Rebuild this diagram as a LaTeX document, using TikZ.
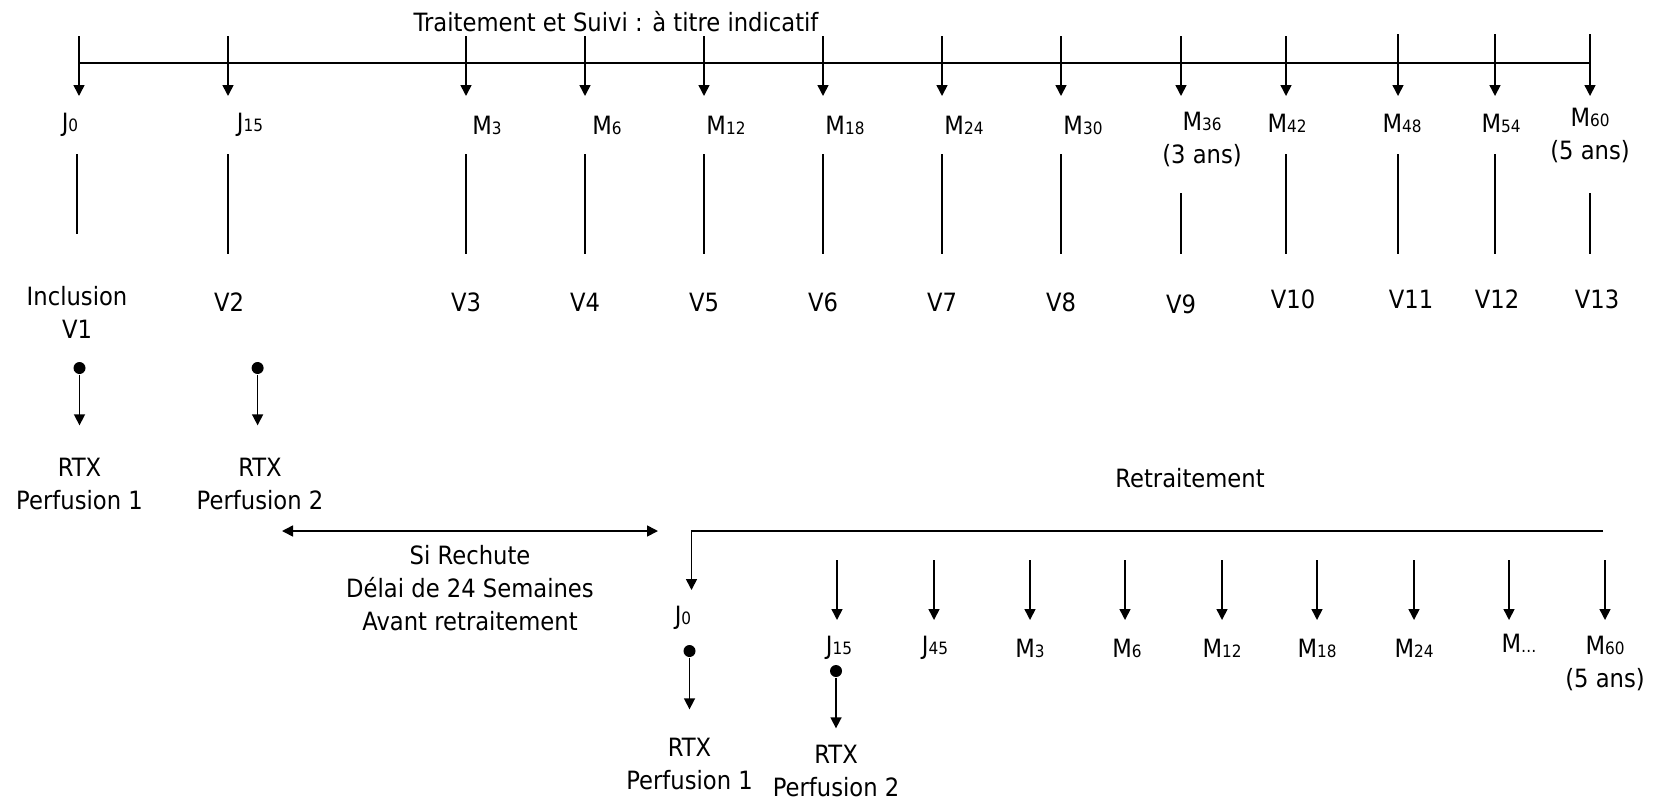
\documentclass[tikz,border=0pt]{standalone}
\usepackage{fontspec}
\setmainfont{DejaVu Sans}[FakeStretch=0.9]
\usepackage{tikz}
\usetikzlibrary{arrows.meta}
\newcommand{\idx}[1]{{\fontsize{8.5pt}{8.5pt}\selectfont #1}}

\begin{document}
\begin{tikzpicture}
	[x=0.5pt,y=-0.5pt,->,>={Triangle[length=5.5pt,width=5.5pt]},line width=0.8pt,
		lab/.style={align=center,inner sep=0pt,font=\fontsize{12.6pt}{16.5pt}\selectfont},
		dot/.style={circle,fill,inner sep=0pt,minimum size=6pt},
		bar/.style={-}]

	\useasboundingbox (0,0) rectangle (1663,803);

	% heights
	\coordinate (tip)  at (0,96);
	\coordinate (ltop) at (0,154);
	\coordinate (lmid) at (0,193);
	\coordinate (lend) at (0,234);
	\coordinate (lbot) at (0,254);
	\coordinate (btip) at (0,620);

	% top axis
	\node[lab] (title) at (616,22) {Traitement et Suivi : à titre indicatif};
	\coordinate (ax0) at (80,63);
	\coordinate (ax1) at (1590,63);

	\coordinate (cJ0)  at (79,36);
	\coordinate (cJ15) at (228,36);
	\coordinate (cM3)  at (466,36);
	\coordinate (cM6)  at (585,36);
	\coordinate (cM12) at (704,36);
	\coordinate (cM18) at (823,36);
	\coordinate (cM24) at (942,36);
	\coordinate (cM30) at (1061,36);
	\coordinate (cM36) at (1181,36);
	\coordinate (cM42) at (1286,36);
	\coordinate (cM48) at (1398,34);
	\coordinate (cM54) at (1495,34);
	\coordinate (cM60) at (1590,34);

	\node[lab] (J0)  at (70,125)   {J\idx{0}};
	\node[lab] (J15) at (250,125)  {J\idx{15}};
	\node[lab] (M3)  at (487,125)  {M\idx{3}};
	\node[lab] (M6)  at (607,125)  {M\idx{6}};
	\node[lab] (M12) at (726,125)  {M\idx{12}};
	\node[lab] (M18) at (845,125)  {M\idx{18}};
	\node[lab] (M24) at (964,125)  {M\idx{24}};
	\node[lab] (M30) at (1083,125) {M\idx{30}};
	\node[lab] (M36) at (1202,139) {M\idx{36}\\(3 ans)};
	\node[lab] (M42) at (1287,123) {M\idx{42}};
	\node[lab] (M48) at (1402,123) {M\idx{48}};
	\node[lab] (M54) at (1501,123) {M\idx{54}};
	\node[lab] (M60) at (1590,135) {M\idx{60}\\(5 ans)};

	\node[lab] (V1)  at (77,312)   {Inclusion\\V1};
	\node[lab] (V2)  at (229,302)  {V2};
	\node[lab] (V3)  at (466,302)  {V3};
	\node[lab] (V4)  at (585,302)  {V4};
	\node[lab] (V5)  at (704,302)  {V5};
	\node[lab] (V6)  at (823,302)  {V6};
	\node[lab] (V7)  at (942,302)  {V7};
	\node[lab] (V8)  at (1061,302) {V8};
	\node[lab] (V9)  at (1181,304) {V9};
	\node[lab] (V10) at (1293,299) {V10};
	\node[lab] (V11) at (1411,299) {V11};
	\node[lab] (V12) at (1497,299) {V12};
	\node[lab] (V13) at (1597,299) {V13};

	% perfusions
	\node[dot] (d1) at (79.5,368) {};
	\node[dot] (d2) at (257.6,368) {};
	\node[lab] (R1) at (79.5,484) {RTX\\Perfusion 1};
	\node[lab] (R2) at (260,484)  {RTX\\Perfusion 2};

	% relapse
	\coordinate (g0) at (282,531);
	\coordinate (g1) at (658,531);
	\node[lab] (rechute) at (470,588) {Si Rechute\\Délai de 24 Semaines\\Avant retraitement};
	\node[lab] (retrait) at (1190,478) {Retraitement};
	\coordinate (re1)  at (1603,531);
	\coordinate (rtip) at (691.5,590);

	\node[lab] (rJ0)  at (683,618)  {J\idx{0}};
	\node[dot] (d3)   at (689.5,651) {};
	\node[lab] (R3)   at (689.5,764) {RTX\\Perfusion 1};
	\node[dot] (d4)   at (836,671) {};
	\node[lab] (R4)   at (836,771)  {RTX\\Perfusion 2};

	\coordinate (bJ15) at (837,560);
	\coordinate (bJ45) at (934,560);
	\coordinate (bM3)  at (1030,560);
	\coordinate (bM6)  at (1125,560);
	\coordinate (bM12) at (1222,560);
	\coordinate (bM18) at (1317,560);
	\coordinate (bM24) at (1414,560);
	\coordinate (bMx)  at (1509,560);
	\coordinate (bM60) at (1605,560);

	\node[lab] (rJ15) at (839,648)  {J\idx{15}};
	\node[lab] (rJ45) at (935,648)  {J\idx{45}};
	\node[lab] (rM3)  at (1030,648) {M\idx{3}};
	\node[lab] (rM6)  at (1127,648) {M\idx{6}};
	\node[lab] (rM12) at (1222,648) {M\idx{12}};
	\node[lab] (rM18) at (1317,648) {M\idx{18}};
	\node[lab] (rM24) at (1414,648) {M\idx{24}};
	\node[lab] (rMx)  at (1519,643) {M\idx{…}};
	\node[lab] (rM60) at (1605,663) {M\idx{60}\\(5 ans)};

	\path[]
	(ax0) edge [bar] (ax1)

	(cJ0)  edge (cJ0 |- tip)
	(cJ15) edge (cJ15 |- tip)
	(cM3)  edge (cM3 |- tip)
	(cM6)  edge (cM6 |- tip)
	(cM12) edge (cM12 |- tip)
	(cM18) edge (cM18 |- tip)
	(cM24) edge (cM24 |- tip)
	(cM30) edge (cM30 |- tip)
	(cM36) edge (cM36 |- tip)
	(cM42) edge (cM42 |- tip)
	(cM48) edge (cM48 |- tip)
	(cM54) edge (cM54 |- tip)
	(cM60) edge (cM60 |- tip)

	(V1 |- ltop)   edge [bar] (V1 |- lend)
	(cJ15 |- ltop) edge [bar] (cJ15 |- lbot)
	(cM3 |- ltop)  edge [bar] (cM3 |- lbot)
	(cM6 |- ltop)  edge [bar] (cM6 |- lbot)
	(cM12 |- ltop) edge [bar] (cM12 |- lbot)
	(cM18 |- ltop) edge [bar] (cM18 |- lbot)
	(cM24 |- ltop) edge [bar] (cM24 |- lbot)
	(cM30 |- ltop) edge [bar] (cM30 |- lbot)
	(cM36 |- lmid) edge [bar] (cM36 |- lbot)
	(cM42 |- ltop) edge [bar] (cM42 |- lbot)
	(cM48 |- ltop) edge [bar] (cM48 |- lbot)
	(cM54 |- ltop) edge [bar] (cM54 |- lbot)
	(cM60 |- lmid) edge [bar] (cM60 |- lbot)

	(d1) edge [shorten >=16pt] (R1)
	(d2) edge [shorten >=16pt] (d2 |- R1.north)
	(g0) edge [<->] (g1)
	(d3) edge [shorten >=14pt] (R3)
	(d4) edge [shorten >=8pt] (R4)

	(bJ15) edge (bJ15 |- btip)
	(bJ45) edge (bJ45 |- btip)
	(bM3)  edge (bM3 |- btip)
	(bM6)  edge (bM6 |- btip)
	(bM12) edge (bM12 |- btip)
	(bM18) edge (bM18 |- btip)
	(bM24) edge (bM24 |- btip)
	(bMx)  edge (bMx |- btip)
	(bM60) edge (bM60 |- btip)
	;

	\draw (re1) -| (rtip);

\end{tikzpicture}
\end{document}
